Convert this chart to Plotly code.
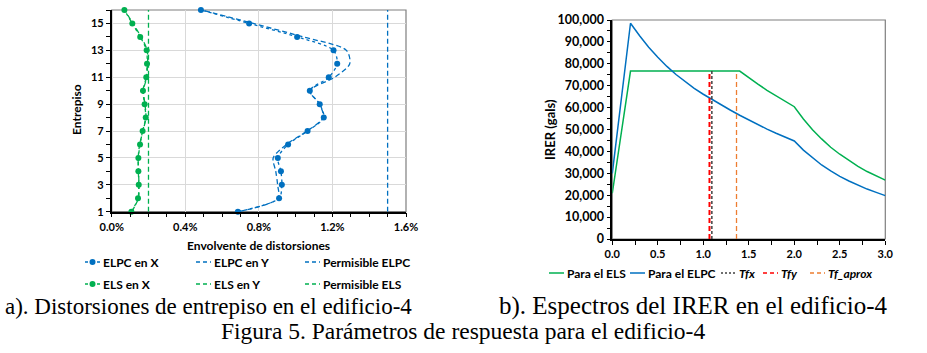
import plotly.graph_objects as go

# --- panel a: storey drift envelopes (values in %) ---
STOREYS = list(range(1, 17))
ELPC_X = [0.686, 0.910, 0.925, 0.920, 0.903, 0.959, 1.065, 1.153,
          1.131, 1.077, 1.180, 1.226, 1.206, 1.008, 0.747, 0.485]
ELPC_Y = [0.693, 0.905, 0.902, 0.892, 0.878, 0.950, 1.062, 1.150,
          1.130, 1.077, 1.213, 1.294, 1.276, 1.041, 0.769, 0.490]
ELS_X = [0.107, 0.143, 0.147, 0.145, 0.145, 0.154, 0.168, 0.185,
         0.179, 0.170, 0.188, 0.192, 0.190, 0.155, 0.112, 0.069]
ELS_Y = [0.109, 0.145, 0.148, 0.146, 0.144, 0.152, 0.170, 0.186,
         0.181, 0.172, 0.191, 0.195, 0.193, 0.160, 0.115, 0.071]
PERM_ELPC = 1.5
PERM_ELS = 0.2

# --- panel b: IRER spectra (gals) ---
T_ELPC = [0, 0.2, 0.3, 0.4, 0.5, 0.6, 0.7, 0.8, 0.9, 1.0, 1.1, 1.2, 1.3,
          1.4, 1.5, 1.6, 1.7, 1.8, 1.9, 2.0, 2.1, 2.2, 2.3, 2.4, 2.5, 2.6,
          2.7, 2.8, 2.9, 3.0]
IRER_ELPC = [30000, 98500, 92800, 87600, 83000, 78800, 75100, 71800, 68800,
             66100, 63600, 61200, 58800, 56500, 54300, 52200, 50200, 48300,
             46500, 44750, 40600, 37000, 33800, 31100, 28600, 26500, 24600,
             22800, 21300, 19800]
T_ELS = [0, 0.2, 1.4, 1.5, 1.6, 1.7, 1.8, 1.9, 2.0, 2.1, 2.2, 2.3, 2.4,
         2.5, 2.6, 2.7, 2.8, 2.9, 3.0]
IRER_ELS = [20900, 76700, 76700, 73600, 70700, 67900, 65300, 62800, 60400,
            54800, 49900, 45700, 41900, 38700, 35800, 33200, 30800, 28800, 26900]
TFX = 1.094
TFY = 1.068
TF_APROX = 1.365
TOP_TFX = 76700
TOP_TFY = 76700
TOP_TF_APROX = 75700

BLUE = "#0070C0"
GREEN = "#00B050"
RED = "#FF0000"
ORANGE = "#ED7D31"
DARK = "#404040"
GRID = "#D9D9D9"
FRAME = "#7F7F7F"
FONT = "Lato, Calibri, Arial, sans-serif"
SERIF = "Liberation Serif, Times New Roman, serif"

W, H = 927, 353


def px(x):
    return x / W


def py(y):
    return 1 - y / H


fig = go.Figure()

# panel a traces
fig.add_trace(go.Scatter(
    x=ELPC_X, y=STOREYS, name="ELPC en X", mode="lines+markers",
    line=dict(color=BLUE, width=1.3, dash="dot", shape="spline", smoothing=0.8),
    marker=dict(color=BLUE, size=6), cliponaxis=False, xaxis="x", yaxis="y"))
fig.add_trace(go.Scatter(
    x=ELPC_Y, y=STOREYS, name="ELPC en Y", mode="lines",
    line=dict(color=BLUE, width=1.3, dash="5px,3px", shape="spline", smoothing=0.8),
    xaxis="x", yaxis="y"))
fig.add_trace(go.Scatter(
    x=[PERM_ELPC, PERM_ELPC], y=[STOREYS[0], STOREYS[-1]], name="Permisible ELPC",
    mode="lines", line=dict(color=BLUE, width=1.3, dash="5px,3px"),
    xaxis="x", yaxis="y"))
fig.add_trace(go.Scatter(
    x=ELS_X, y=STOREYS, name="ELS en X", mode="lines+markers",
    line=dict(color=GREEN, width=1.3, dash="dot", shape="spline", smoothing=0.8),
    marker=dict(color=GREEN, size=6), cliponaxis=False, xaxis="x", yaxis="y"))
fig.add_trace(go.Scatter(
    x=ELS_Y, y=STOREYS, name="ELS en Y", mode="lines",
    line=dict(color=GREEN, width=1.3, dash="5px,3px", shape="spline", smoothing=0.8),
    xaxis="x", yaxis="y"))
fig.add_trace(go.Scatter(
    x=[PERM_ELS, PERM_ELS], y=[STOREYS[0], STOREYS[-1]], name="Permisible ELS",
    mode="lines", line=dict(color=GREEN, width=1.3, dash="5px,3px"),
    xaxis="x", yaxis="y"))

# panel b traces
fig.add_trace(go.Scatter(
    x=T_ELS, y=IRER_ELS, name="Para el ELS", mode="lines",
    line=dict(color=GREEN, width=1.5), xaxis="x2", yaxis="y2"))
fig.add_trace(go.Scatter(
    x=T_ELPC, y=IRER_ELPC, name="Para el ELPC", mode="lines",
    line=dict(color=BLUE, width=1.5), xaxis="x2", yaxis="y2"))
fig.add_trace(go.Scatter(
    x=[TFX, TFX], y=[0, TOP_TFX], name="Tfx", mode="lines",
    line=dict(color=DARK, width=1.5, dash="3px,2px"), xaxis="x2", yaxis="y2"))
fig.add_trace(go.Scatter(
    x=[TFY, TFY], y=[0, TOP_TFY], name="Tfy", mode="lines",
    line=dict(color=RED, width=2, dash="5px,3px"), xaxis="x2", yaxis="y2"))
fig.add_trace(go.Scatter(
    x=[TF_APROX, TF_APROX], y=[0, TOP_TF_APROX], name="Tf_aprox", mode="lines",
    line=dict(color=ORANGE, width=1.3, dash="5px,3px"), xaxis="x2", yaxis="y2"))

tickfont = dict(family=FONT, size=11, color="#000000", weight="bold")
axis_common = dict(showline=True, linecolor="#000000", linewidth=1.5,
                   ticks="outside", ticklen=4, tickwidth=1.2, tickcolor="#000000",
                   zeroline=False, tickfont=tickfont)

fig.update_layout(
    width=W, height=H,
    margin=dict(l=0, r=0, t=0, b=0, autoexpand=False),
    paper_bgcolor="white", plot_bgcolor="white",
    font=dict(family=FONT, color="#000000"),
    showlegend=False,
    xaxis=dict(domain=[px(111.7), px(406)], anchor="y", range=[0, 1.6],
               dtick=0.4, tick0=0, ticksuffix="%", tickformat=".1f",
               showgrid=True, gridcolor=GRID, gridwidth=1,
               minor=dict(dtick=0.1, ticks="outside", ticklen=4, tickcolor="#000000",
                          showgrid=False),
               **axis_common),
    yaxis=dict(domain=[py(211.7), py(10)], anchor="x", range=[1, 16],
               tick0=1, dtick=2, showgrid=True, gridcolor=GRID, gridwidth=1,
               minor=dict(dtick=1, ticks="outside", ticklen=4, tickcolor="#000000",
                          showgrid=False),
               **axis_common),
    xaxis2=dict(domain=[px(612.3), px(885.3)], anchor="y2", range=[0, 3],
                dtick=0.5, tick0=0, tickformat=".1f", showgrid=False,
                minor=dict(dtick=0.25, ticks="outside", ticklen=4, tickcolor="#000000"),
                **axis_common),
    yaxis2=dict(domain=[py(239), py(20)], anchor="x2", range=[0, 100000],
                dtick=10000, tickformat=",d", showgrid=False,
                minor=dict(dtick=5000, ticks="outside", ticklen=4, tickcolor="#000000"),
                **{**axis_common, "tickfont": dict(family=FONT, size=12.5,
                                                  color="#000000", weight="bold")}),
)

# gray plot-area frames (top/right edges)
for xr, yr in (("x domain", "y domain"), ("x2 domain", "y2 domain")):
    fig.add_shape(type="rect", xref=xr, yref=yr, x0=0, x1=1, y0=0, y1=1,
                  line=dict(color=FRAME, width=1.2), layer="below")

# Excel-style legends: short samples + labels (pixel positions)
LEG_FONT = dict(family=FONT, size=12, weight="bold", color="#000000")
legend_items = [
    # (x0 of sample, y, colour, dash, marker?, label)
    (85, 262, BLUE, "dot", True, "ELPC en X"),
    (196, 262, BLUE, "4px,3px", False, "ELPC en Y"),
    (305, 262, BLUE, "4px,3px", False, "Permisible ELPC"),
    (85, 284, GREEN, "dot", True, "ELS en X"),
    (196, 284, GREEN, "4px,3px", False, "ELS en Y"),
    (305, 284, GREEN, "4px,3px", False, "Permisible ELS"),
    (549, 273, GREEN, "solid", False, "Para el ELS"),
    (630, 273, BLUE, "solid", False, "Para el ELPC"),
    (721, 273, DARK, "2px,2px", False, "<i>Tfx</i>"),
    (763, 273, RED, "4px,3px", False, "<i>Tfy</i>"),
    (810, 273, ORANGE, "4px,3px", False, "<i>Tf_aprox</i>"),
]
for x0, y, col, dash, mk, label in legend_items:
    fig.add_shape(type="line", xref="paper", yref="paper",
                  x0=px(x0), x1=px(x0 + 15), y0=py(y), y1=py(y),
                  line=dict(color=col, width=1.5, dash=dash))
    if mk:
        fig.add_shape(type="circle", xref="paper", yref="paper",
                      x0=px(x0 + 4.5), x1=px(x0 + 10.5), y0=py(y + 3), y1=py(y - 3),
                      fillcolor=col, line=dict(color=col, width=0))
    fig.add_annotation(xref="paper", yref="paper", x=px(x0 + 16), y=py(y),
                       text=label, showarrow=False, xanchor="left", yanchor="middle",
                       font=LEG_FONT)

annotations = [
    dict(text="Entrepiso", x=px(77), y=py(110), textangle=-90,
         font=dict(family=FONT, size=12, weight="bold")),
    dict(text="Envolvente de distorsiones", x=px(258), y=py(245),
         font=dict(family=FONT, size=12, weight="bold")),
    dict(text="IRER (gals)", x=px(550), y=py(130), textangle=-90,
         font=dict(family=FONT, size=13, weight="bold")),
    dict(text="a). Distorsiones de entrepiso en el edificio-4", x=px(208), y=py(306),
         font=dict(family=SERIF, size=23)),
    dict(text="b). Espectros del IRER en el edificio-4", x=px(693), y=py(306),
         font=dict(family=SERIF, size=25)),
    dict(text="Figura 5. Parámetros de respuesta para el edificio-4", x=px(463), y=py(331),
         font=dict(family=SERIF, size=23.5)),
]
for a in annotations:
    fig.add_annotation(xref="paper", yref="paper", showarrow=False,
                       xanchor="center", yanchor="middle", **a)

# drop the default 8px body margin so the figure sits at the page origin
fig.write_html("out.html", config={"displayModeBar": False},
               post_script="document.body.style.margin='0';")
